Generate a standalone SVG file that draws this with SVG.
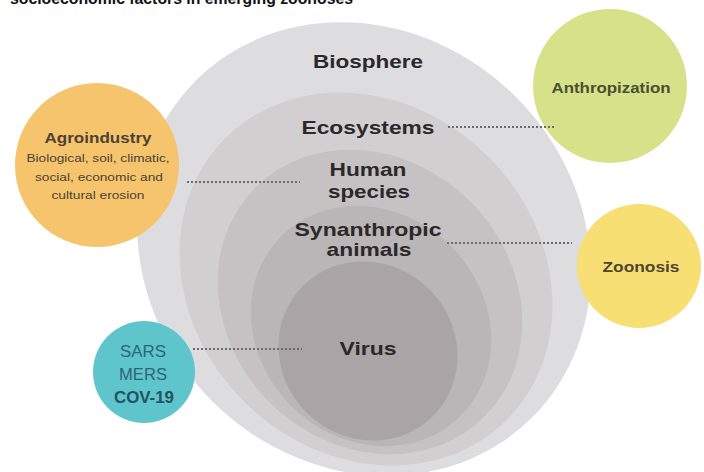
<svg xmlns="http://www.w3.org/2000/svg" width="704" height="472" viewBox="0 0 704 472">
<style>
.lbl{font-family:"Liberation Sans",Arial,sans-serif;font-weight:bold;fill:#2a2828;text-anchor:middle}
.big{font-size:19px}
.side{font-family:"Liberation Sans",Arial,sans-serif;text-anchor:middle}
.dot{stroke:#6f6a6c;stroke-width:2;stroke-dasharray:2 2;fill:none}
</style>
<rect width="704" height="472" fill="#ffffff"/>
<text x="10" y="4" font-family="Liberation Sans, Arial, sans-serif" font-weight="bold" font-size="16" fill="#111" textLength="343" lengthAdjust="spacingAndGlyphs">socioeconomic factors in emerging zoonoses</text>

<g id="biosphere">
<ellipse cx="364" cy="249" rx="238" ry="215" transform="rotate(45 364 249)" fill="#dddcde"/>
<text class="lbl big" x="368" y="68" textLength="110" lengthAdjust="spacingAndGlyphs">Biosphere</text>
</g>
<g id="ecosystems">
<ellipse cx="366" cy="279" rx="199" ry="173" transform="rotate(45 366 279)" fill="#d1cfd0"/>
<text class="lbl big" x="368" y="134" textLength="133" lengthAdjust="spacingAndGlyphs">Ecosystems</text>
</g>
<g id="human">
<ellipse cx="370" cy="302" rx="162" ry="142" transform="rotate(45 370 302)" fill="#c6c2c3"/>
<text class="lbl big" x="368" y="176" textLength="77" lengthAdjust="spacingAndGlyphs">Human</text>
<text class="lbl big" x="369" y="198" textLength="82" lengthAdjust="spacingAndGlyphs">species</text>
</g>
<g id="synanthropic">
<ellipse cx="371" cy="326" rx="127" ry="113" transform="rotate(45 371 326)" fill="#bab5b6"/>
<text class="lbl big" x="368" y="236" textLength="147" lengthAdjust="spacingAndGlyphs">Synanthropic</text>
<text class="lbl big" x="369" y="256" textLength="85" lengthAdjust="spacingAndGlyphs">animals</text>
</g>
<g id="virus">
<ellipse cx="368" cy="351" rx="92" ry="87" transform="rotate(45 368 351)" fill="#aaa4a6"/>
<text class="lbl big" x="368" y="355" textLength="57" lengthAdjust="spacingAndGlyphs">Virus</text>
</g>

<g id="agroindustry">
<circle cx="97" cy="165" r="82" fill="#f6c46c"/>
<text class="side" x="98" y="143" font-size="15" font-weight="bold" fill="#4a4236" textLength="107" lengthAdjust="spacingAndGlyphs">Agroindustry</text>
<text class="side" x="98" y="162" font-size="11.5" fill="#4a4236" textLength="143" lengthAdjust="spacingAndGlyphs">Biological, soil, climatic,</text>
<text class="side" x="99" y="181" font-size="11.5" fill="#4a4236" textLength="128" lengthAdjust="spacingAndGlyphs">social, economic and</text>
<text class="side" x="98" y="199" font-size="11.5" fill="#4a4236" textLength="93" lengthAdjust="spacingAndGlyphs">cultural erosion</text>
</g>
<g id="anthropization">
<circle cx="610" cy="86" r="77" fill="#d6e28a"/>
<text class="side" x="611" y="93" font-size="15" font-weight="bold" fill="#4a4f33" textLength="119" lengthAdjust="spacingAndGlyphs">Anthropization</text>
</g>
<g id="zoonosis">
<circle cx="639" cy="266" r="62" fill="#f7df74"/>
<text class="side" x="641" y="272" font-size="15" font-weight="bold" fill="#4d4532" textLength="77" lengthAdjust="spacingAndGlyphs">Zoonosis</text>
</g>
<g id="sars">
<circle cx="144" cy="372" r="51" fill="#5ec5cd"/>
<text class="side" x="143" y="357" font-size="16" fill="#2d6573" textLength="46" lengthAdjust="spacingAndGlyphs">SARS</text>
<text class="side" x="143" y="380" font-size="16" fill="#2d6573" textLength="48" lengthAdjust="spacingAndGlyphs">MERS</text>
<text class="side" x="144" y="403" font-size="16" font-weight="bold" fill="#23535f" textLength="60" lengthAdjust="spacingAndGlyphs">COV-19</text>
</g>

<g id="connectors">
<line class="dot" x1="448" y1="127" x2="555" y2="127"/>
<line class="dot" x1="187" y1="182" x2="300" y2="182"/>
<line class="dot" x1="447" y1="243" x2="572" y2="243"/>
<line class="dot" x1="193" y1="349" x2="302" y2="349"/>
</g>
</svg>
